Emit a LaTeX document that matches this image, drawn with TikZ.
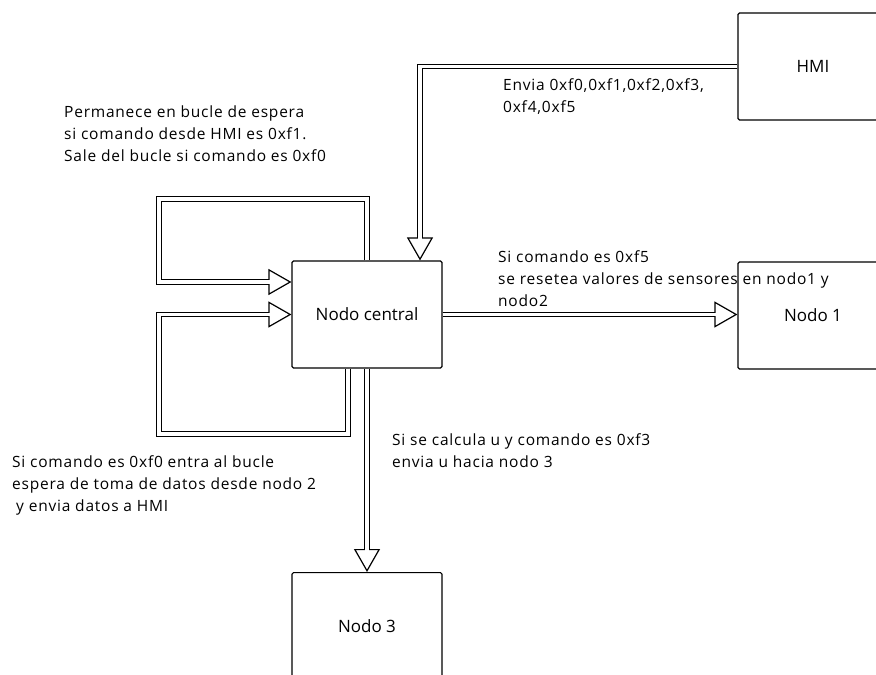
\documentclass[tikz,border=0pt]{standalone}
\usepackage{fontspec}
\setmainfont{Open Sans}
\newfontfamily\annotfont[LetterSpace=5]{Open Sans}
\usetikzlibrary{arrows.meta}
\begin{document}
\begin{tikzpicture}[x=1pt,y=-1pt,
  box/.style={draw, line width=1.2pt, rounded corners=1.5pt, minimum width=150pt,
    minimum height=107pt, inner sep=0pt, font=\fontsize{17}{20}\selectfont},
  note/.style={anchor=north west, align=left, inner sep=0pt,
    font=\annotfont\fontsize{15.5}{22}\selectfont},
  dbl/.style={line width=5.6pt,
    -{Triangle[open, fill=white, line width=1.2pt, length=23pt, width=26pt]},
    postaction={draw=white, line width=3.4pt, -, shorten >=12pt}},
]
\useasboundingbox (0,0) rectangle (876,675);
\node[box] (hmi) at (813,66.5) {HMI};
\node[box] (central) at (367,314.5) {Nodo central};
\node[box] (n1) at (813,315.5) {Nodo 1};
\node[box, anchor=north] (n3) at (367,572) {Nodo 3};
\coordinate (ul) at (159,199);
\coordinate (ll) at (159,434);

\draw[dbl] (hmi.west) -| ([xshift=53pt]central.north);
\draw[dbl] (central.east) -- (central.east -| n1.west);
\draw[dbl] (central.south) -- (n3.north);
\draw[dbl] (central.north) |- (ul) |- ([yshift=32.5pt]central.west);
\draw[dbl] ([xshift=-19pt]central.south) |- (ll) |- (central.west);

\node[note] (t1) at (64,106) {Permanece en bucle de espera\\si comando desde HMI es 0xf1.\\Sale del bucle si comando es 0xf0};
\node[note] (t2) at (503,78) {Envia 0xf0,0xf1,0xf2,0xf3,\\0xf4,0xf5};
\node[note] (t3) at (498,250) {Si comando es 0xf5\\se resetea valores de sensores en nodo1 y\\nodo2};
\node[note] (t4) at (392,433) {Si se calcula u y comando es 0xf3\\envia u hacia nodo 3};
\node[note] (t5) at (12,455) {Si comando es 0xf0 entra al bucle\\espera de toma de datos desde nodo 2\\\hspace{4pt}y envia datos a HMI};
\end{tikzpicture}
\end{document}
